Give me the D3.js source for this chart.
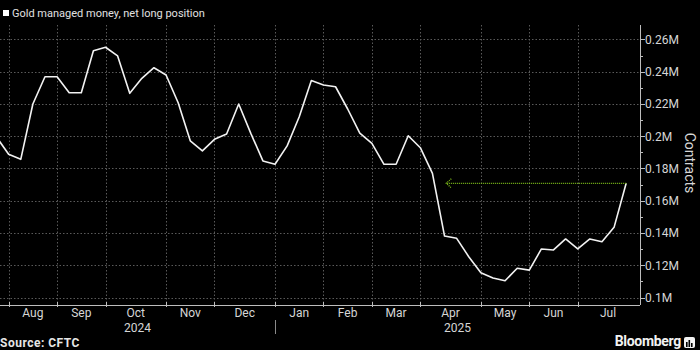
<!DOCTYPE html>
<html>
<head>
<meta charset="utf-8">
<script src="https://cdn.jsdelivr.net/npm/d3@7"></script>
<style>
  html, body { margin: 0; padding: 0; background: #000; }
  svg { display: block; }
  text { font-family: Roboto, "Liberation Sans", sans-serif; }
</style>
</head>
<body>
<svg id="chart" width="700" height="350"></svg>
<script>
// Weekly CFTC report dates (Tuesdays)
const dates = [
  "2024-07-30","2024-08-06","2024-08-13","2024-08-20","2024-08-27",
  "2024-09-03","2024-09-10","2024-09-17","2024-09-24",
  "2024-10-01","2024-10-08","2024-10-15","2024-10-22","2024-10-29",
  "2024-11-05","2024-11-12","2024-11-19","2024-11-26",
  "2024-12-03","2024-12-10","2024-12-17","2024-12-24","2024-12-31",
  "2025-01-07","2025-01-14","2025-01-21","2025-01-28",
  "2025-02-04","2025-02-11","2025-02-18","2025-02-25",
  "2025-03-04","2025-03-11","2025-03-18","2025-03-25",
  "2025-04-01","2025-04-08","2025-04-15","2025-04-22","2025-04-29",
  "2025-05-06","2025-05-13","2025-05-20","2025-05-27",
  "2025-06-03","2025-06-10","2025-06-17","2025-06-24",
  "2025-07-01","2025-07-08","2025-07-15","2025-07-22","2025-07-29"
];

// Managed money net long position, millions of contracts
const netLong = [
  0.1995, 0.1888, 0.1857, 0.2200, 0.2369,
  0.2369, 0.2270, 0.2270, 0.2530,
  0.2552, 0.2498, 0.2266, 0.2359, 0.2425,
  0.2380, 0.2208, 0.1972, 0.1909,
  0.1981, 0.2014, 0.2200, 0.2018, 0.1847,
  0.1826, 0.1940, 0.2121, 0.2345,
  0.2318, 0.2307, 0.2169, 0.2020,
  0.1956, 0.1826, 0.1826, 0.2003,
  0.1929, 0.1770, 0.1381, 0.1367, 0.1253,
  0.1154, 0.1121, 0.1104, 0.1181,
  0.1170, 0.1301, 0.1295, 0.1363,
  0.1301, 0.1363, 0.1346, 0.1435, 0.1708
];

const monthLabels = ["Aug","Sep","Oct","Nov","Dec","Jan","Feb","Mar","Apr","May","Jun","Jul"];
const yearLabels = ["2024","2025"];
const yTicks = [0.10, 0.12, 0.14, 0.16, 0.18, 0.20, 0.22, 0.24, 0.26];
const yMinorTicks = [0.11, 0.13, 0.15, 0.17, 0.19, 0.21, 0.23, 0.25];

// Arrow from the latest reading back to the same level in April
const arrowFromDate = "2025-07-29";
const arrowToDate = "2025-04-16";

const parse = d3.timeParse("%Y-%m-%d");
const data = dates.map((d, i) => ({ date: parse(d), value: netLong[i] }));

const svg = d3.select("#chart");
const plot = { left: 0, right: 640, top: 25, bottom: 305 };

const x = d3.scaleTime()
  .domain([parse("2024-08-01"), parse("2025-08-06")])
  .range([plot.left, plot.right]);
const y = d3.scaleLinear()
  .domain([0.09535, 0.26899])
  .range([plot.bottom, plot.top]);

svg.append("rect").attr("width", 700).attr("height", 350).attr("fill", "#000");

svg.append("defs").append("clipPath").attr("id", "plotClip")
  .append("rect")
  .attr("x", plot.left).attr("y", plot.top)
  .attr("width", plot.right - plot.left).attr("height", plot.bottom - plot.top);

// Month boundaries: first report date of each month
const monthStarts = [];
data.forEach((d, i) => {
  if (i === 0) return;
  const prev = data[i - 1].date;
  if (prev.getMonth() !== d.date.getMonth()) monthStarts.push(d.date);
});
const monthEnd = parse("2025-08-05");

// Grid
const grid = svg.append("g").attr("stroke", "#5a5a5a").attr("stroke-width", 1)
  .attr("stroke-dasharray", "1.5,2");
grid.selectAll("line.h").data(yTicks).join("line")
  .attr("x1", plot.left).attr("x2", plot.right)
  .attr("y1", d => Math.round(y(d)) + 0.5).attr("y2", d => Math.round(y(d)) + 0.5);
grid.selectAll("line.v").data(monthStarts).join("line")
  .attr("x1", d => Math.round(x(d)) + 0.5).attr("x2", d => Math.round(x(d)) + 0.5)
  .attr("y1", plot.top).attr("y2", plot.bottom);

// X axis
const xAxis = svg.append("g");
xAxis.append("line")
  .attr("x1", plot.left).attr("x2", plot.right)
  .attr("y1", plot.bottom + 0.5).attr("y2", plot.bottom + 0.5)
  .attr("stroke", "#bdbdbd");
xAxis.selectAll("line.tick").data(monthStarts).join("line")
  .attr("x1", d => Math.round(x(d)) + 0.5).attr("x2", d => Math.round(x(d)) + 0.5)
  .attr("y1", plot.bottom - 3).attr("y2", plot.bottom + 2)
  .attr("stroke", "#bdbdbd");
const bounds = monthStarts.concat([monthEnd]);
xAxis.selectAll("text.month").data(monthLabels).join("text")
  .attr("x", (d, i) => (x(bounds[i]) + x(bounds[i + 1])) / 2)
  .attr("y", 317)
  .attr("text-anchor", "middle")
  .attr("fill", "#d6d6d6")
  .attr("font-size", 12)
  .text(d => d);

const janX = x(monthStarts[5]);
const yearSpans = [[plot.left, janX], [janX, plot.right]];
xAxis.selectAll("text.year").data(yearLabels).join("text")
  .attr("x", (d, i) => (yearSpans[i][0] + yearSpans[i][1]) / 2)
  .attr("y", 331.5)
  .attr("text-anchor", "middle")
  .attr("fill", "#d6d6d6")
  .attr("font-size", 12)
  .text(d => d);
xAxis.append("line")
  .attr("x1", Math.round(janX) + 0.5).attr("x2", Math.round(janX) + 0.5)
  .attr("y1", 320).attr("y2", 334)
  .attr("stroke", "#8a8a8a");

// Y axis on the right
const yAxis = svg.append("g");
yAxis.append("line")
  .attr("x1", plot.right + 0.5).attr("x2", plot.right + 0.5)
  .attr("y1", plot.top).attr("y2", plot.bottom)
  .attr("stroke", "#bdbdbd");
yAxis.selectAll("line.major").data(yTicks).join("line")
  .attr("x1", plot.right).attr("x2", plot.right + 5)
  .attr("y1", d => Math.round(y(d)) + 0.5).attr("y2", d => Math.round(y(d)) + 0.5)
  .attr("stroke", "#bdbdbd");
yAxis.selectAll("line.minor").data(yMinorTicks).join("line")
  .attr("x1", plot.right).attr("x2", plot.right + 3)
  .attr("y1", d => Math.round(y(d)) + 0.5).attr("y2", d => Math.round(y(d)) + 0.5)
  .attr("stroke", "#bdbdbd");
const fmt = v => (+v.toFixed(2)) + "M";
yAxis.selectAll("text").data(yTicks).join("text")
  .attr("x", plot.right + 5)
  .attr("y", d => y(d))
  .attr("dy", "0.36em")
  .attr("fill", "#d6d6d6")
  .attr("font-size", 12)
  .text(fmt);

svg.append("text")
  .attr("transform", "translate(690,163) rotate(90)")
  .attr("text-anchor", "middle")
  .attr("dominant-baseline", "central")
  .attr("fill", "#d6d6d6")
  .attr("font-size", 14)
  .text("Contracts");

// Series line
const line = d3.line().x(d => x(d.date)).y(d => y(d.value));
svg.append("path")
  .datum(data)
  .attr("clip-path", "url(#plotClip)")
  .attr("fill", "none")
  .attr("stroke", "#f2f2f2")
  .attr("stroke-width", 1.6)
  .attr("stroke-linejoin", "round")
  .attr("d", line);

// Annotation arrow at the latest level
const last = data[data.length - 1];
const ax1 = x(parse(arrowFromDate)), ax2 = x(parse(arrowToDate));
const ay = y(last.value);
const arrow = svg.append("g")
  .attr("stroke", "#7fbf1a").attr("stroke-width", 1.3)
  .attr("stroke-dasharray", "1,1").attr("fill", "none");
arrow.append("line").attr("x1", ax1).attr("x2", ax2).attr("y1", ay).attr("y2", ay);
arrow.append("path")
  .attr("d", `M${ax2 + 5},${ay - 4.5}L${ax2},${ay}L${ax2 + 5},${ay + 4.5}`);

// Legend
svg.append("rect").attr("x", 3).attr("y", 10).attr("width", 6).attr("height", 6).attr("fill", "#fff");
svg.append("text")
  .attr("x", 12).attr("y", 16.8)
  .attr("fill", "#e0e0e0")
  .attr("font-size", 11)
  .text("Gold managed money, net long position");

// Footer
svg.append("text")
  .attr("x", 0).attr("y", 347)
  .attr("fill", "#e6e6e6")
  .attr("font-size", 12)
  .attr("font-weight", "bold")
  .attr("letter-spacing", 0.5)
  .text("Source: CFTC");
svg.append("text")
  .attr("x", 681).attr("y", 346)
  .attr("text-anchor", "end")
  .attr("fill", "#f2f2f2")
  .attr("font-size", 14)
  .attr("font-weight", "bold")
  .attr("letter-spacing", -0.3)
  .text("Bloomberg");
const logo = svg.append("g").attr("transform", "translate(684,337)");
logo.append("rect").attr("width", 11).attr("height", 11).attr("rx", 2).attr("fill", "#f2f2f2");
[[2, 5, 6], [4.5, 3, 8], [7, 6, 5]].forEach(([bx, by, bh]) => {
  logo.append("rect").attr("x", bx).attr("y", by).attr("width", 1.6).attr("height", bh - 1).attr("fill", "#000");
});
</script>
</body>
</html>
